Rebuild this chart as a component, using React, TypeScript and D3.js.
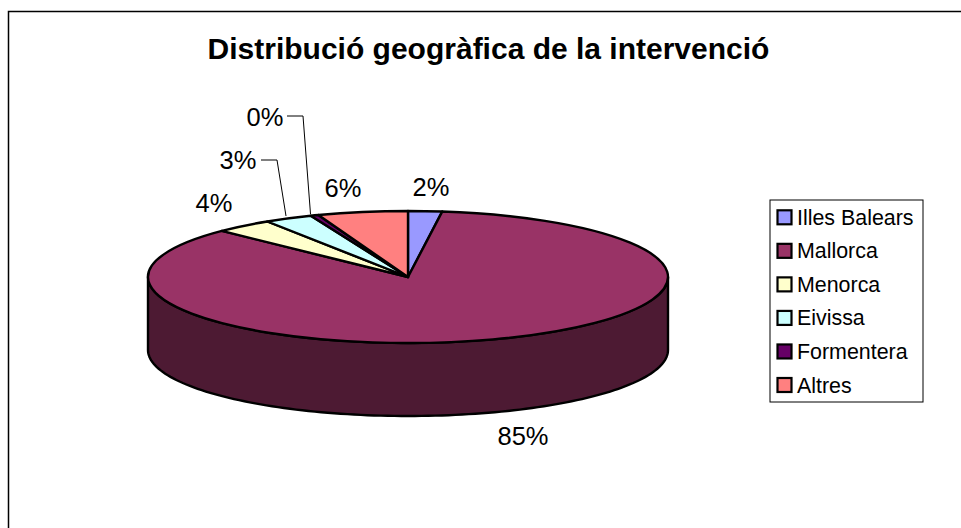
import React from 'react';
import * as d3 from 'd3';

const categories = ['Illes Balears', 'Mallorca', 'Menorca', 'Eivissa', 'Formentera', 'Altres'];
const shares = [2.1, 85.2, 3.6, 3.0, 0.5, 5.6];
const percentLabels = ['2%', '85%', '4%', '3%', '0%', '6%'];
const colors = ['#9999FF', '#993366', '#FFFFCC', '#CCFFFF', '#660066', '#FF8080'];
const sideColors = ['#4D4D80', '#4D1A33', '#808066', '#668080', '#330033', '#804040'];
const title = 'Distribució geogràfica de la intervenció';

const width = 961;
const height = 528;
const cx = 408;
const cy = 277;
const rx = 260;
const ry = 66;
const depth = 73;
const font = '"Liberation Sans", Arial, sans-serif';

// label anchor and optional leader line, same order as categories
const labelPos = [
    { x: 431, y: 196 },
    { x: 523, y: 445 },
    { x: 214, y: 212 },
    { x: 238, y: 169, leader: [[261, 160], [277, 160], [286, 216]] },
    { x: 265, y: 126, leader: [[287, 116], [303, 116], [310.5, 214]] },
    { x: 343, y: 197 },
];

const pie = d3.pie<number>().sort(null).value(d => d);
const arcs = pie(shares);
const arc = d3.arc<d3.PieArcDatum<number>>().innerRadius(0).outerRadius(rx);
const leaderLine = d3.line();

// rim of the disc, for the front half only
const rimPoint = (a: number, dy: number): [number, number] => [
    rx * Math.sin(a),
    ry * -Math.cos(a) + dy,
];
const sidePath = (d: d3.PieArcDatum<number>) => {
    const a0 = Math.max(d.startAngle, Math.PI / 2);
    const a1 = Math.min(d.endAngle, (3 * Math.PI) / 2);
    if (a1 <= a0) return null;
    const steps = d3.range(0, 121).map(i => a0 + ((a1 - a0) * i) / 120);
    const pts = [...steps.map(a => rimPoint(a, 0)), ...steps.reverse().map(a => rimPoint(a, depth))];
    return d3.line()(pts) + 'Z';
};

const legendY = d3.scalePoint<string>().domain(categories).range([217.3, 385]);

export default function App() {
    return (
        <svg
            width={width}
            height={height}
            style={{ position: 'absolute', left: 0, top: 0, background: '#fff' }}
            fontFamily={font}
        >
            <path d={`M8.5 ${height}V11.5H${width}`} fill="none" stroke="#000" strokeWidth={1.5} />
            <text x={488.5} y={59} textAnchor="middle" fontSize={30} fontWeight="bold" fill="#000">
                {title}
            </text>

            <g transform={`translate(${cx},${cy})`}>
                {arcs.map((d, i) => {
                    const p = sidePath(d);
                    return p ? (
                        <path key={i} d={p} fill={sideColors[i]} stroke="#000" strokeWidth={2.4} strokeLinejoin="round" />
                    ) : null;
                })}
                <g transform={`scale(1,${ry / rx})`}>
                    {arcs.map((d, i) => (
                        <path
                            key={i}
                            d={arc(d) as string}
                            fill={colors[i]}
                            stroke="#000"
                            strokeWidth={2.4}
                            strokeLinejoin="round"
                            vectorEffect="non-scaling-stroke"
                        />
                    ))}
                </g>
            </g>

            {labelPos.map((l, i) => (
                <g key={i}>
                    {l.leader && (
                        <path d={leaderLine(l.leader as [number, number][]) as string} fill="none" stroke="#000" strokeWidth={1} />
                    )}
                    <text x={l.x} y={l.y} textAnchor="middle" fontSize={25.5} fill="#000">
                        {percentLabels[i]}
                    </text>
                </g>
            ))}

            <rect x={770} y={200} width={153} height={202} fill="#fff" stroke="#000" strokeWidth={1} />
            {categories.map((c, i) => {
                const y = legendY(c) as number;
                return (
                    <g key={c}>
                        <rect x={777.5} y={y - 7} width={14} height={14} fill={colors[i]} stroke="#000" strokeWidth={2.2} />
                        <text x={797} y={y + 7.5} fontSize={21.4} fill="#000">
                            {c}
                        </text>
                    </g>
                );
            })}
        </svg>
    );
}
